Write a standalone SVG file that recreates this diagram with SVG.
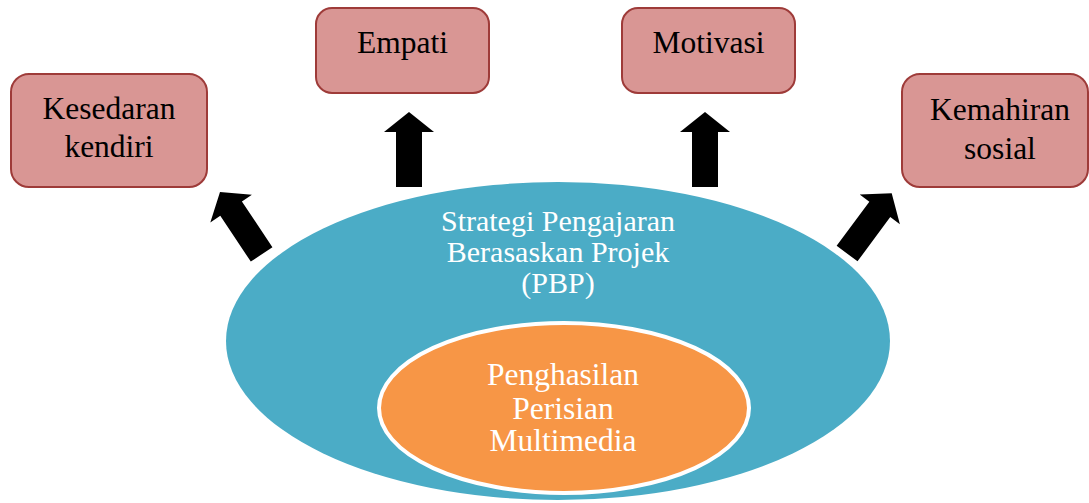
<svg xmlns="http://www.w3.org/2000/svg" width="1089" height="503" viewBox="0 0 1089 503">
<style>
.box{fill:#D99694;stroke:#9E3B39;stroke-width:2}
.bt{font-family:"Liberation Serif","Times New Roman",serif;font-size:31.5px;fill:#000;text-anchor:middle}
.wt{font-family:"Liberation Serif","Times New Roman",serif;font-size:31.5px;fill:#fff;text-anchor:middle}
.wt2{font-family:"Liberation Serif","Times New Roman",serif;font-size:30px;fill:#fff;text-anchor:middle}
.arr{fill:#000}
</style>
<defs>
<path id="blk" d="M0,0 L25,20 L13,20 L13,75 L-13,75 L-13,20 L-25,20 Z"/>
</defs>
<rect width="1089" height="503" fill="#fff"/>
<g id="strategi">
<ellipse cx="558" cy="341" rx="332" ry="159" fill="#4BACC6"/>
<text class="wt2" x="558" y="231">Strategi Pengajaran</text>
<text class="wt2" x="558" y="262">Berasaskan Projek</text>
<text class="wt2" x="558" y="293">(PBP)</text>
</g>
<g id="penghasilan">
<ellipse cx="564" cy="408" rx="185" ry="85" fill="#F79646" stroke="#fff" stroke-width="4"/>
<text class="wt" x="563" y="385">Penghasilan</text>
<text class="wt" x="563" y="419">Perisian</text>
<text class="wt" x="563" y="451">Multimedia</text>
</g>
<g id="kesedaran">
<rect class="box" x="11" y="74" width="196" height="113" rx="18"/>
<text class="bt" x="109" y="119">Kesedaran</text>
<text class="bt" x="109" y="157">kendiri</text>
</g>
<g id="empati">
<rect class="box" x="316" y="8" width="173" height="85" rx="16"/>
<text class="bt" x="402.5" y="53">Empati</text>
</g>
<g id="motivasi">
<rect class="box" x="622" y="8" width="173" height="85" rx="16"/>
<text class="bt" x="708.5" y="53">Motivasi</text>
</g>
<g id="kemahiran">
<rect class="box" x="902" y="74" width="186" height="113" rx="18"/>
<text class="bt" x="1000" y="120">Kemahiran</text>
<text class="bt" x="1000" y="159">sosial</text>
</g>
<g id="connectors">
<use href="#blk" class="arr" transform="translate(220,192) rotate(-33.7)"/>
<use href="#blk" class="arr" transform="translate(409,112)"/>
<use href="#blk" class="arr" transform="translate(705,112)"/>
<use href="#blk" class="arr" transform="translate(891.7,193.3) rotate(36.5)"/>
</g>
</svg>
